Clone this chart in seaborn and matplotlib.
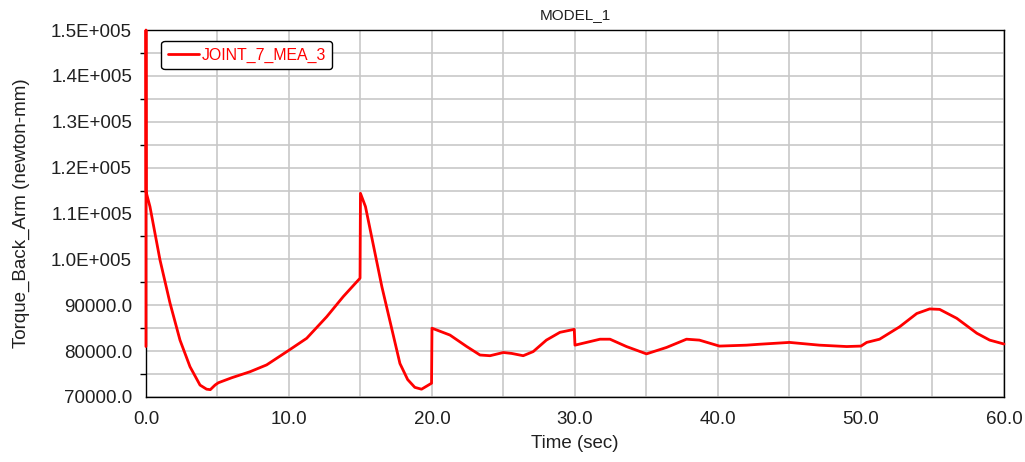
import matplotlib
matplotlib.use("Agg")
import matplotlib.pyplot as plt
import pandas as pd
import seaborn as sns
from matplotlib.ticker import FuncFormatter, MultipleLocator

# values
time_sec = [0.0, 0.0, 0.01, 0.28, 0.98, 1.68, 2.38, 3.08, 3.78, 4.24, 4.5, 4.83, 5.06,
            6.0, 7.27, 8.44, 10.0, 11.24, 12.64, 13.8, 14.97, 15.0, 15.35, 16.5,
            17.76, 18.3, 18.8, 19.27, 19.97, 20.0, 21.26, 22.43, 23.36, 24.06, 24.99,
            25.57, 26.38, 27.08, 28.0, 28.95, 29.95, 30.0, 31.75, 32.45, 33.6, 35.0,
            36.4, 37.8, 38.7, 40.1, 42.0, 42.9, 45.0, 47.1, 49.0, 50.0, 50.4, 51.3,
            52.7, 53.9, 54.8, 55.5, 56.7, 58.1, 59.0, 60.0]
torque = [81000, 150000, 114700, 111500, 99900, 90500, 82400, 76600, 72600, 71700,
          71600, 72600, 73100, 74200, 75500, 77000, 80200, 82800, 87500, 91900, 95900,
          114400, 111500, 94000, 77300, 73800, 72100, 71700, 73000, 85000, 83500,
          81000, 79150, 79000, 79700, 79500, 79000, 79900, 82400, 84100, 84750, 81300,
          82600, 82600, 81000, 79400, 80800, 82600, 82400, 81100, 81300, 81500, 81900,
          81300, 81000, 81100, 81900, 82600, 85300, 88200, 89200, 89100, 87150, 83900,
          82400, 81550]

df = pd.DataFrame({"Time": time_sec, "JOINT_7_MEA_3": torque})

sns.set_style("whitegrid")
plt.rcParams["font.family"] = ["Liberation Sans", "DejaVu Sans"]

fig = plt.figure(figsize=(10.25, 4.62), dpi=100)
ax = fig.add_axes([0.1424, 0.1407, 0.8371, 0.7943])

sns.lineplot(data=df, x="Time", y="JOINT_7_MEA_3", estimator=None, sort=False,
             color="#ff0000", linewidth=2.0, label="JOINT_7_MEA_3", ax=ax)
ax.lines[0].set_clip_on(False)
ax.lines[0].set_zorder(5)

ax.set_xlim(0, 60)
ax.set_ylim(70000, 150000)
ax.xaxis.set_major_locator(MultipleLocator(10))
ax.xaxis.set_minor_locator(MultipleLocator(5))
ax.yaxis.set_major_locator(MultipleLocator(10000))
ax.yaxis.set_minor_locator(MultipleLocator(5000))


def ylab(v, pos):
    if v >= 100000:
        return f"{v / 1e5:.1f}E+005"
    return f"{v:.1f}"


ax.yaxis.set_major_formatter(FuncFormatter(ylab))
ax.xaxis.set_major_formatter(FuncFormatter(lambda v, p: f"{v:.1f}"))

ax.grid(True, which="both", color="#c8c8c8", linewidth=1.2)
for s in ax.spines.values():
    s.set_color("black")
    s.set_linewidth(1.0)
ax.tick_params(axis="both", which="major", direction="out", length=5, width=1,
               color="black", labelsize=13.5, labelcolor="#202020")
ax.tick_params(axis="x", which="major", pad=5)
ax.tick_params(axis="y", which="major", pad=5)
ax.tick_params(axis="y", which="minor", direction="out", length=4, width=1, color="black", left=True)
ax.tick_params(axis="x", which="minor", length=0)

ax.set_xlabel("Time (sec)", fontsize=13.5, color="#202020", labelpad=5)
ax.set_ylabel("Torque_Back_Arm (newton-mm)", fontsize=13.5, color="#202020", labelpad=15)
ax.set_title("MODEL_1", fontsize=11, color="#202020", pad=8)

leg = ax.legend(loc="upper left", bbox_to_anchor=(0.018, 0.97), fontsize=11.4,
                frameon=True, fancybox=True, handlelength=2.0, borderpad=0.4,
                handletextpad=0.15, borderaxespad=0)
leg.get_frame().set_edgecolor("black")
leg.get_frame().set_linewidth(1.0)
leg.get_frame().set_alpha(1)
for t in leg.get_texts():
    t.set_color("#ff0000")

fig.savefig("out.png", dpi=100)
